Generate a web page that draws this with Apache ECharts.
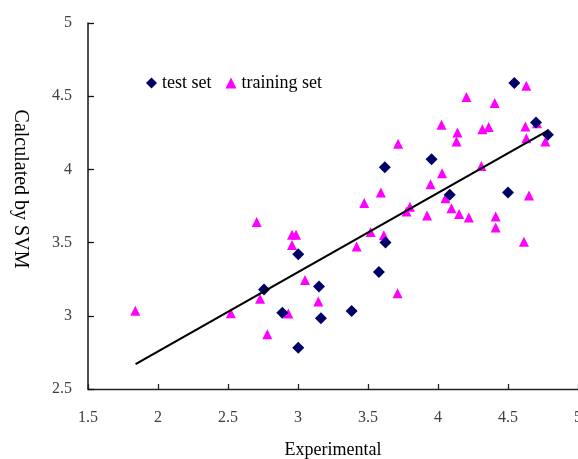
<!DOCTYPE html>
<html>
<head>
<meta charset="utf-8">
<script src="https://cdn.jsdelivr.net/npm/echarts@6/dist/echarts.min.js"></script>
<style>html,body{margin:0;padding:0;background:#fff;}#c{width:578px;height:459px;}</style>
</head>
<body>
<div id="c"></div>
<script>
const testX = [4.545, 4.70, 4.785, 3.954, 3.62, 4.084, 4.50, 3.625, 3.002, 3.578, 3.15, 2.757, 2.888, 3.164, 3.383, 3.002];
const testY = [4.59, 4.32, 4.236, 4.07, 4.015, 3.826, 3.842, 3.50, 3.42, 3.30, 3.20, 3.18, 3.02, 2.983, 3.033, 2.782];
const trainX = [1.838, 2.52, 2.705, 2.729, 2.781, 2.931, 2.957, 2.986, 2.957, 3.05, 3.145, 3.419, 3.519, 3.613, 3.711,
  3.473, 3.592, 3.715, 3.775, 3.80, 3.922, 3.947, 4.029, 4.053, 4.096, 4.139, 4.132, 4.025, 4.203, 4.405,
  4.317, 4.362, 4.631, 4.624, 4.707, 4.631, 4.767, 4.31, 4.151, 4.22, 4.412, 4.412, 4.614, 4.65];
const trainY = [3.035, 3.017, 3.64, 3.117, 2.874, 3.015, 3.553, 3.553, 3.484, 3.245, 3.097, 3.473, 3.573, 3.55, 3.154,
  3.771, 3.842, 4.175, 3.712, 3.745, 3.685, 3.899, 3.974, 3.803, 3.735, 4.252, 4.19, 4.305, 4.494, 4.453,
  4.275, 4.289, 4.571, 4.293, 4.316, 4.213, 4.19, 4.024, 3.696, 3.671, 3.678, 3.603, 3.505, 3.821];
const fitX = [1.84, 4.785];
const fitY = [2.67, 4.265];
const xTicks = [1.5, 2, 2.5, 3, 3.5, 4, 4.5, 5];
const yTicks = [2.5, 3, 3.5, 4, 4.5, 5];

const serif = 'Liberation Serif';
const zip = (a, b) => a.map((v, i) => [v, b[i]]);

const chart = echarts.init(document.getElementById('c'));
chart.setOption({
  animation: false,
  backgroundColor: '#fff',
  grid: { left: 88, right: 0, top: 23, bottom: 70, containLabel: false, outerBoundsMode: 'none' },
  legend: {
    left: 146, top: 74, padding: 0,
    itemWidth: 11, itemHeight: 11, itemGap: 14,
    textStyle: { fontFamily: serif, fontSize: 18, color: '#000' },
    data: [{ name: 'test set', icon: 'diamond' }, { name: 'training set', icon: 'triangle' }]
  },
  xAxis: {
    type: 'value', min: xTicks[0], max: xTicks[xTicks.length - 1], interval: 0.5,
    name: 'Experimental', nameLocation: 'middle', nameGap: 52,
    nameTextStyle: { fontFamily: serif, fontSize: 18, color: '#000' },
    axisLine: { show: true, lineStyle: { color: '#222', width: 1.3 } },
    axisTick: { show: true, inside: true, length: 5, lineStyle: { color: '#222', width: 1.3 } },
    axisLabel: { fontFamily: serif, fontSize: 16, color: '#404040', margin: 21, showMaxLabel: true },
    splitLine: { show: false }
  },
  yAxis: {
    type: 'value', min: yTicks[0], max: yTicks[yTicks.length - 1], interval: 0.5,
    name: 'Calculated by SVM', nameLocation: 'middle', nameGap: 58, nameRotate: -90,
    nameTextStyle: { fontFamily: serif, fontSize: 20, color: '#000', padding: [0, 34, 0, 0] },
    axisLine: { show: true, lineStyle: { color: '#111', width: 1.5 } },
    axisTick: { show: true, inside: true, length: 6, lineStyle: { color: '#111', width: 1.3 } },
    axisLabel: { fontFamily: serif, fontSize: 16, color: '#404040', margin: 16 },
    splitLine: { show: false }
  },
  series: [
    {
      name: 'training set', type: 'scatter', symbol: 'triangle', symbolSize: 10,
      itemStyle: { color: '#ff00ff', opacity: 1 },
      data: zip(trainX, trainY), z: 2
    },
    {
      name: 'test set', type: 'scatter', symbol: 'diamond', symbolSize: 12,
      itemStyle: { color: '#000066', opacity: 1 },
      data: zip(testX, testY), z: 3
    },
    {
      name: 'fit', type: 'line', symbol: 'none', silent: true,
      lineStyle: { color: '#000', width: 2.2 },
      data: zip(fitX, fitY), z: 4
    }
  ]
});
</script>
</body>
</html>
